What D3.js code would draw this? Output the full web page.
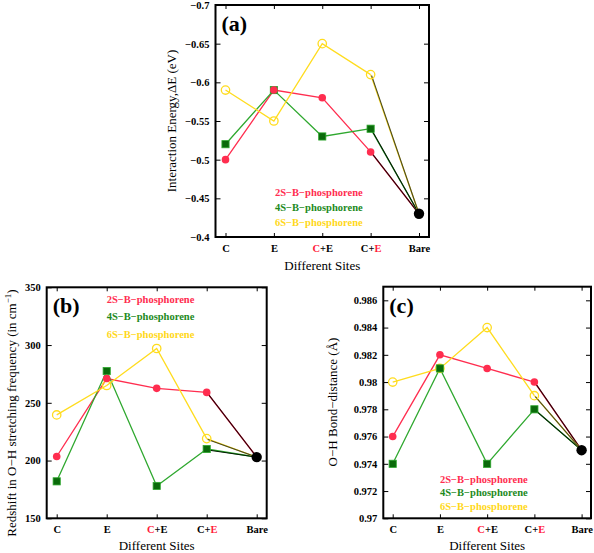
<!DOCTYPE html>
<html><head><meta charset="utf-8">
<script src="https://cdn.jsdelivr.net/npm/d3@7"></script>
<style>body{margin:0;background:#fff}svg{display:block}</style>
</head><body>
<svg id="c" width="594" height="553"></svg>
<script>
// ---- data ----
const sites = ["C", "E", "C+E (C)", "C+E (E)", "Bare"];
const siteText = ["C", "E", "C+E", "C+E", "Bare"];
const siteRedChar = [-1, -1, 0, 2, -1]; // index of highlighted char in label
const seriesNames = ["2S\u2212B\u2212phosphorene", "4S\u2212B\u2212phosphorene", "6S\u2212B\u2212phosphorene"];

const energy2S = [-0.50, -0.59, -0.58, -0.51, -0.43];
const energy4S = [-0.52, -0.59, -0.53, -0.54, -0.43];
const energy6S = [-0.59, -0.55, -0.65, -0.61, -0.43];
const energyTicks = [-0.7, -0.65, -0.6, -0.55, -0.5, -0.45, -0.4];

const shift2S = [203.5, 271, 262.5, 259, 203];
const shift4S = [182, 277.5, 178, 210, 203];
const shift6S = [239.5, 265, 297, 219, 203];
const shiftTicks = [150, 200, 250, 300, 350];

const bond2S = [0.976, 0.982, 0.981, 0.980, 0.975];
const bond4S = [0.974, 0.981, 0.974, 0.978, 0.975];
const bond6S = [0.980, 0.981, 0.984, 0.979, 0.975];
const bondTicks = [0.97, 0.972, 0.974, 0.976, 0.978, 0.98, 0.982, 0.984, 0.986];

// ---- style ----
const RED = "#ff2d4f", GREEN_LINE = "#2fa82f", GREEN_MK = "#0a6a0a", YELLOW = "#ffdc1e";
const LEG_COLORS = ["#ff2d4f", "#1d8a1d", "#ffd81a"];
const serif = "'Liberation Serif','Times New Roman',serif";
const svg = d3.select("#c");

function fmtNum(d) {
  let s = String(+d.toFixed(3));
  return s.replace("-", "\u2212");
}

function panel(o) {
  const g = svg.append("g");
  const x = d3.scalePoint().domain(sites).range([o.left + o.pad, o.right - o.pad]);
  const y = d3.scaleLinear().domain(o.domain).range([o.bottom, o.top]);

  // ticks (inward, mirrored)
  const yAx = d3.axisLeft(y).tickValues(o.ticks).tickSize(-5).tickPadding(6).tickFormat(fmtNum);
  const ga = g.append("g").attr("transform", `translate(${o.left},0)`).call(yAx);
  ga.select(".domain").remove();
  ga.selectAll("line").attr("stroke", "#000").attr("stroke-width", 1);
  ga.selectAll("text").attr("font-family", serif).attr("font-weight", "bold").attr("font-size", 10.5).attr("fill", "#000");
  const gr = g.append("g").attr("transform", `translate(${o.right},0)`).call(d3.axisRight(y).tickValues(o.ticks).tickSize(-5).tickFormat(""));
  gr.select(".domain").remove();
  gr.selectAll("line").attr("stroke", "#000");

  const xAx = d3.axisBottom(x).tickSize(-4).tickPadding(9).tickFormat("");
  const gx = g.append("g").attr("transform", `translate(0,${o.bottom})`).call(xAx);
  gx.select(".domain").remove();
  gx.selectAll("line").attr("stroke", "#000");
  gx.selectAll(".tick").append("text")
    .attr("y", 15).attr("text-anchor", "middle")
    .attr("font-family", serif).attr("font-weight", "bold").attr("font-size", 10.5)
    .each(function (d, i) {
      const t = d3.select(this), s = siteText[i], r = siteRedChar[i];
      for (let k = 0; k < s.length; k++) {
        t.append("tspan").text(s[k]).attr("fill", k === r ? "#ff1a3a" : "#000");
      }
    });
  const gt = g.append("g").attr("transform", `translate(0,${o.top})`).call(d3.axisTop(x).tickSize(-4).tickFormat(""));
  gt.select(".domain").remove();
  gt.selectAll("line").attr("stroke", "#000");

  // frame
  g.append("rect").attr("x", o.left).attr("y", o.top).attr("width", o.right - o.left).attr("height", o.bottom - o.top)
    .attr("fill", "none").attr("stroke", "#000").attr("stroke-width", 2);

  // series
  const ser = [
    { v: o.s2, line: RED, dark: "#2a0008" },
    { v: o.s4, line: GREEN_LINE, dark: "#001a00" },
    { v: o.s6, line: YELLOW, dark: "#4a4a20" }
  ];
  const line = d3.line().x((d, i) => x(sites[i])).y(d => y(d));
  ser.forEach(s => {
    const main = s.v.slice(0, 4);
    g.append("path").attr("d", line(main)).attr("fill", "none").attr("stroke", s.line).attr("stroke-width", 1.3);
    // last segment to Bare: coloured line with dark companion
    const x1 = x(sites[3]), y1 = y(s.v[3]), x2 = x(sites[4]), y2 = y(s.v[4]);
    g.append("line").attr("x1", x1).attr("y1", y1).attr("x2", x2).attr("y2", y2).attr("stroke", s.line).attr("stroke-width", 1.3);
    g.append("line").attr("x1", x1 + 1).attr("y1", y1 + 1).attr("x2", x2).attr("y2", y2).attr("stroke", s.dark).attr("stroke-width", 1.1);
  });
  // markers
  const idx = [0, 1, 2, 3];
  g.selectAll(".m6").data(idx).join("circle").attr("cx", i => x(sites[i])).attr("cy", i => y(o.s6[i])).attr("r", 4.2)
    .attr("fill", "none").attr("stroke", YELLOW).attr("stroke-width", 1.3);
  g.selectAll(".m4").data(idx).join("rect").attr("x", i => x(sites[i]) - 3.6).attr("y", i => y(o.s4[i]) - 3.6)
    .attr("width", 7.2).attr("height", 7.2).attr("fill", GREEN_MK).attr("stroke", GREEN_LINE).attr("stroke-width", 0.8);
  g.selectAll(".m2").data(idx).join("circle").attr("cx", i => x(sites[i])).attr("cy", i => y(o.s2[i])).attr("r", 3.8)
    .attr("fill", RED);
  g.append("circle").attr("cx", x(sites[4])).attr("cy", y(o.s2[4])).attr("r", 5.2).attr("fill", "#000");

  // legend
  seriesNames.forEach((n, i) => {
    g.append("text").attr("x", o.legX).attr("y", o.legY + i * o.legDy).text(n)
      .attr("font-family", serif).attr("font-weight", "bold").attr("font-size", 10.5).attr("fill", LEG_COLORS[i]);
  });

  // panel label
  g.append("text").attr("x", o.left + 6).attr("y", o.top + 26).text(o.tag)
    .attr("font-family", serif).attr("font-weight", "bold").attr("font-size", 22).attr("fill", "#000");

  // axis titles
  g.append("text").attr("x", (o.left + o.right) / 2).attr("y", o.xTitleY).attr("text-anchor", "middle")
    .attr("font-family", serif).attr("font-size", 13).attr("fill", "#000").text("Different Sites");
  const yt = g.append("text").attr("transform", `translate(${o.yTitleX},${o.yTitleY}) rotate(-90)`).attr("text-anchor", "middle")
    .attr("font-family", serif).attr("font-size", 13).attr("fill", "#000");
  o.yTitle(yt);
}

panel({
  left: 215.5, right: 429, top: 5, bottom: 237, pad: 10,
  domain: [-0.4, -0.7], ticks: energyTicks, s2: energy2S, s4: energy4S, s6: energy6S,
  legX: 275, legY: 195.5, legDy: 15, tag: "(a)", xTitleY: 269.5, yTitleX: 176, yTitleY: 121,
  yTitle: t => t.text("Interaction Energy,\u0394E (eV)")
});
panel({
  left: 46.7, right: 266.7, top: 287.3, bottom: 518.3, pad: 10,
  domain: [150, 350], ticks: shiftTicks, s2: shift2S, s4: shift4S, s6: shift6S,
  legX: 106.7, legY: 302.5, legDy: 17.5, tag: "(b)", xTitleY: 550, yTitleX: 15.5, yTitleY: 413,
  yTitle: t => {
    t.append("tspan").text("Redshift in O\u2212H stretching frequency (in cm");
    t.append("tspan").text("\u22121").attr("font-size", 9).attr("dy", -5);
    t.append("tspan").text(")").attr("dy", 5);
  }
});
panel({
  left: 383.3, right: 591, top: 286.7, bottom: 518.3, pad: 9.4,
  domain: [0.97, 0.987], ticks: bondTicks, s2: bond2S, s4: bond4S, s6: bond6S,
  legX: 440, legY: 482.5, legDy: 13.5, tag: "(c)", xTitleY: 550, yTitleX: 336.5, yTitleY: 402,
  yTitle: t => t.text("O\u2212H Bond\u2212distance (\u00c5)")
});
</script>
</body></html>
